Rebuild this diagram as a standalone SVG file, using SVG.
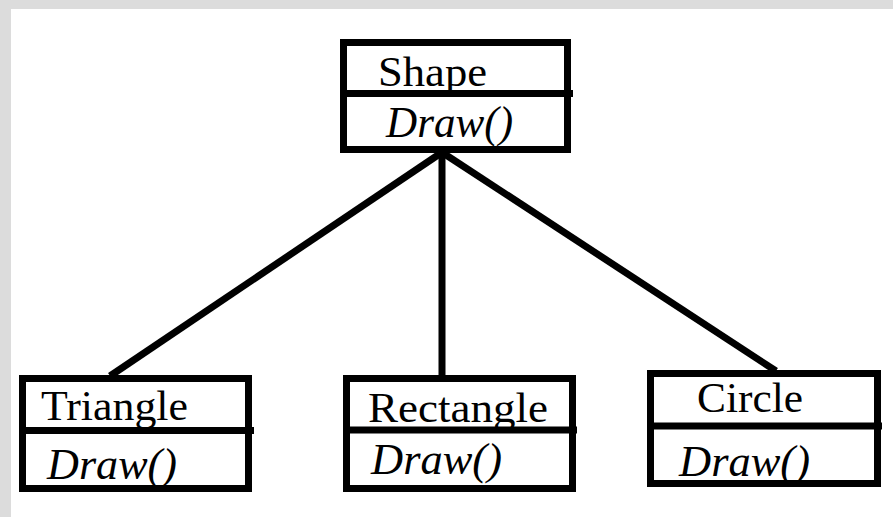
<svg xmlns="http://www.w3.org/2000/svg" width="893" height="517" viewBox="0 0 893 517">
  <style>
    .box { fill: #ffffff; stroke: #000000; stroke-width: 7; }
    .div { stroke: #000000; stroke-width: 7; }
    .link { stroke: #000000; stroke-width: 7; fill: none; }
    .name { font-family: "Liberation Serif", "Times New Roman", serif; font-size: 42px; fill: #000000; }
    .op { font-family: "Liberation Serif", "Times New Roman", serif; font-size: 44px; font-style: italic; fill: #000000; }
  </style>
  <rect x="0" y="0" width="893" height="517" fill="#dcdcdc"/>
  <rect x="11" y="9" width="882" height="508" fill="#ffffff"/>

  <g id="connectors">
    <line class="link" x1="441" y1="153" x2="110" y2="376"/>
    <line class="link" x1="442" y1="153" x2="442" y2="378"/>
    <line class="link" x1="443" y1="153" x2="776" y2="371"/>
  </g>

  <g id="shape">
    <rect class="box" x="343.5" y="42.5" width="224" height="107"/>
    <line class="div" x1="343.5" y1="93.5" x2="573" y2="93.5"/>
    <text class="name" x="378" y="86" textLength="109" lengthAdjust="spacingAndGlyphs">Shape</text>
    <text class="op" x="386" y="137" textLength="127" lengthAdjust="spacingAndGlyphs">Draw()</text>
  </g>

  <g id="triangle">
    <rect class="box" x="22.5" y="378.5" width="226" height="110"/>
    <line class="div" x1="22.5" y1="430.5" x2="254" y2="430.5"/>
    <text class="name" x="41" y="420" textLength="147" lengthAdjust="spacingAndGlyphs">Triangle</text>
    <text class="op" x="47" y="479" textLength="130" lengthAdjust="spacingAndGlyphs">Draw()</text>
  </g>

  <g id="rectangle">
    <rect class="box" x="346.5" y="378.5" width="226" height="110"/>
    <line class="div" x1="346.5" y1="430" x2="577" y2="430"/>
    <text class="name" x="368" y="422" textLength="180" lengthAdjust="spacingAndGlyphs">Rectangle</text>
    <text class="op" x="371" y="474" textLength="131" lengthAdjust="spacingAndGlyphs">Draw()</text>
  </g>

  <g id="circle">
    <rect class="box" x="650.5" y="373.5" width="227" height="110"/>
    <line class="div" x1="650.5" y1="426" x2="882" y2="426"/>
    <text class="name" x="697" y="412" textLength="106" lengthAdjust="spacingAndGlyphs">Circle</text>
    <text class="op" x="679" y="476" textLength="131" lengthAdjust="spacingAndGlyphs">Draw()</text>
  </g>
</svg>
